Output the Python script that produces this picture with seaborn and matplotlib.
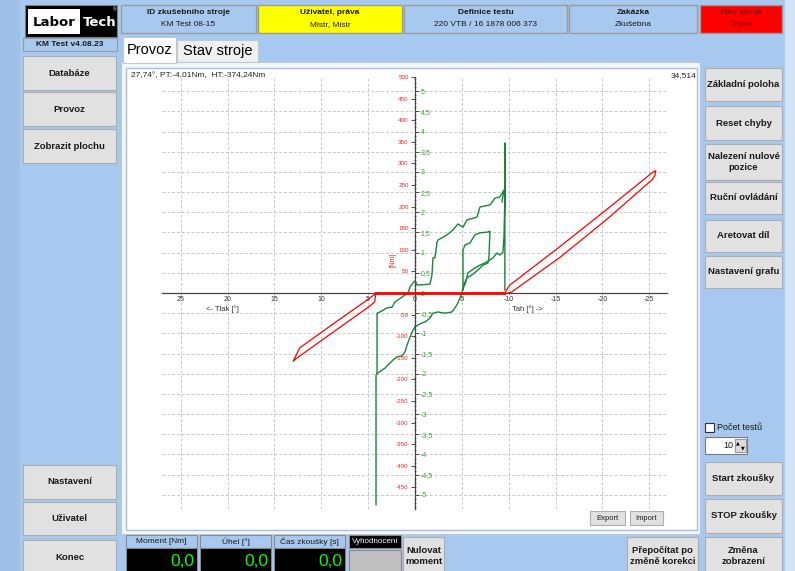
import seaborn as sns
import matplotlib.pyplot as plt
from matplotlib.patches import Rectangle
from matplotlib.ticker import MultipleLocator, FuncFormatter

W, H = 795, 571

# --- chart data (angle in degrees, moment in Nm, green trace in its own scale) ---
angle_ticks = [25, 20, 15, 10, 5, 0, -5, -10, -15, -20, -25]
moment_ticks = [500, 450, 400, 350, 300, 250, 200, 150, 100, 50,
                -50, -100, -150, -200, -250, -300, -350, -400, -450]
green_ticks = [5, 4.5, 4, 3.5, 3, 2.5, 2, 1.5, 1, 0.5, 0,
               -0.5, -1, -1.5, -2, -2.5, -3, -3.5, -4, -4.5, -5]

red_zero_x = [4.3, -9.6]
red_zero_y = [0, 0]
red_right_x = [-9.6, -9.8, -10.1, -15.5, -20.5, -25.4, -25.7, -25.6, -25.3, -20.5, -15.5, -10.3, -9.9]
red_right_y = [0, 8, 18, 108, 194, 280, 283, 272, 262, 171, 83, 2, 0]
red_left_x = [4.1, 5.1, 8.5, 12.3, 13.0, 12.7, 8.5, 5.0, 4.3, 4.2]
red_left_y = [0, -16, -68, -127, -158, -152, -87, -33, -21, -3]

green_a_x = [4.16, 4.16, 3.94, 3.52, 3.20, 2.88, 2.35, 1.92, 1.39, 1.07, 0.85, 0.53, 0.21, 0.0,
             -0.32, -0.75, -1.07, -1.60, -1.92, -2.45, -3.20, -3.94, -4.26, -4.58, -4.80, -5.01,
             -5.12, -5.12, -5.33, -5.86, -6.40, -6.93, -7.78, -8.0, -7.89, -7.78, -7.25, -6.72,
             -6.08, -5.54, -5.33, -5.12]
green_a_y = [-5.25, -2.03, -1.98, -1.91, -1.86, -1.78, -1.66, -1.58, -1.56, -1.46, -1.29, -1.09,
             -0.92, -0.84, -0.79, -0.74, -0.72, -0.62, -0.50, -0.47, -0.50, -0.47, -0.37, -0.25,
             -0.12, 0.0, 0.15, 1.06, 1.19, 1.24, 1.44, 1.49, 1.51, 1.53, 0.87, 0.74, 0.69, 0.57,
             0.45, 0.37, 0.27, 0.07]
green_b_x = [4.05, 4.05, 3.73, 2.99, 2.45, 2.13, 1.81, 1.07, 0.75, 0.53, 0.21, 0.0, -0.21, -0.53,
             -1.60, -1.81, -1.92, -2.13, -2.35, -2.45, -3.41, -4.05, -4.58, -5.12, -5.54, -6.61,
             -6.93, -8.00, -8.53, -9.06, -9.38, -9.49, -9.28]
green_b_y = [-2.0, -0.50, -0.47, -0.37, -0.35, -0.22, -0.17, -0.05, 0.0, 0.15, 0.25, 0.30, 0.20,
             0.20, 0.22, 0.45, 0.87, 0.87, 1.26, 1.31, 1.44, 1.56, 1.71, 1.63, 1.81, 1.88, 2.13,
             2.18, 2.35, 2.38, 2.50, 2.55, 2.25]
green_c_x = [-5.33, -5.65, -6.40, -6.93, -7.68, -8.32, -8.74, -9.06, -9.38, -9.49, -9.59, -9.59, -9.59]
green_c_y = [0.20, 0.50, 0.62, 0.69, 0.77, 0.87, 0.99, 0.94, 1.01, 1.36, 2.30, 3.71, 0.07]

GREEN = "#17853b"
RED = "#ff0000"
BLUE = "#a8c9ef"
GRAY_BTN = "#e1e1e1"

sns.set_style("white")
plt.rcParams["font.family"] = ["Liberation Sans", "DejaVu Sans"]

fig = plt.figure(figsize=(W / 100, H / 100), dpi=100, facecolor=BLUE)


def rect(x0, y0, x1, y1, fc, ec="#a0a0a0", lw=0.8):
    fig.add_artist(Rectangle((x0 / W, 1 - y1 / H), (x1 - x0) / W, (y1 - y0) / H,
                             transform=fig.transFigure, fc=fc, ec=ec, lw=lw, zorder=-2))


def label(x, y, s, **kw):
    kw.setdefault("ha", "center")
    kw.setdefault("va", "center")
    return fig.text(x / W, 1 - y / H, s, **kw)


def button(x0, y0, x1, y1, text, size=6.8, weight="bold"):
    rect(x0, y0, x1, y1, GRAY_BTN, ec="#adadad")
    label((x0 + x1) / 2, (y0 + y1) / 2, text, fontsize=size, fontweight=weight,
          color="#1a1a1a", linespacing=1.3)


# window edges
rect(0, 0, 20, H, "#9fc1e8", ec="none")
rect(785, 0, W, H, "#d3e3f6", ec="none")

# logo + version
rect(25, 5, 117, 37, "black", ec="#808080")
rect(28, 9, 80, 34, "white", ec="none")
label(54, 22, "Labor", fontsize=9.5, fontweight="bold", color="black", family="DejaVu Sans")
label(99.5, 22, "Tech", fontsize=9.5, fontweight="bold", color="white", family="DejaVu Sans")
label(115, 9.5, "®", fontsize=3.5, color="white")
rect(23, 38, 117, 51, BLUE, ec="#9a9a9a")
label(70, 44.5, "KM Test v4.08.23", fontsize=6, fontweight="bold", color="#1a1a1a")

# left buttons
for y0, y1, t in [(56, 90, "Databáze"), (92, 126, "Provoz"), (129, 163, "Zobrazit plochu"),
                  (465, 499, "Nastavení"), (502, 535, "Uživatel"), (540, 575, "Konec")]:
    button(23, y0, 116, y1, t)

# header cells
for x0, x1, fc, title, val, tc in [
        (121, 256, BLUE, "ID zkušebního stroje", "KM Test 08-15", "#1a1a1a"),
        (258, 402, "#ffff00", "Uživatel, práva", "Mistr, Mistr", "#1a1a1a"),
        (404, 567, BLUE, "Definice testu", "220 VTB / 16 1878 006 373", "#1a1a1a"),
        (569, 697, BLUE, "Zakázka", "Zkušebna", "#1a1a1a"),
        (700, 782, "#ff0000", "Stav stroje", "Chyba", "#8b0000")]:
    rect(x0, 5, x1, 33, fc, ec="#9a9a9a", lw=1)
    label((x0 + x1) / 2, 12.5, title, fontsize=6, fontweight="bold", color=tc)
    label((x0 + x1) / 2, 25, val, fontsize=6, color=tc)

# tabs
rect(121, 62, 700, 534, "#f4f7fb", ec="#c0c8d4")
rect(123, 37, 176, 63, "white", ec="#c0c8d4")
rect(177, 40, 258, 62, "#f0f0f0", ec="#c0c8d4")
label(149.5, 50, "Provoz", fontsize=10.5, color="black")
label(217.5, 51, "Stav stroje", fontsize=10.5, color="black")

# chart area
rect(126, 68, 697, 530, "white", ec="#a9c0dc", lw=1)
label(131, 76, "27,74°, PT:-4,01Nm,  HT:-374,24Nm", fontsize=6, color="#222222", ha="left")
label(696, 76, "34,514", fontsize=6, color="#222222", ha="right")
button(590, 511, 625, 525, "Export", size=5.5, weight="normal")
button(630, 511, 663, 525, "Import", size=5.5, weight="normal")

# right panel
rect(700, 62, 785, 534, BLUE, ec="none")
for y0, y1, t in [(68, 101, "Základní poloha"), (106, 140, "Reset chyby"),
                  (144, 180, "Nalezení nulové\npozice"), (182, 214, "Ruční ovládání"),
                  (220, 252, "Aretovat díl"), (256, 288, "Nastavení grafu"),
                  (462, 495, "Start zkoušky"), (499, 533, "STOP zkoušky"),
                  (537, 575, "Změna\nzobrazení")]:
    button(705, y0, 782, y1, t)
rect(705, 423, 714, 432, "white", ec="#333333")
label(717, 427.5, "Počet testů", fontsize=6.5, color="#1a1a1a", ha="left")
rect(705, 437, 747, 454, "white", ec="#7a7a7a")
label(733, 445.5, "10", fontsize=6.5, color="#1a1a1a", ha="right")
rect(735, 439, 746, 452, "#dcdcdc", ec="#9a9a9a")
label(738, 443, "▲", fontsize=3.5, color="black", family="DejaVu Sans")
label(743, 448, "▼", fontsize=3.5, color="black", family="DejaVu Sans")

# bottom row readouts
for x0, x1, t in [(126, 197, "Moment [Nm]"), (200, 271, "Úhel [°]"), (274, 345, "Čas zkoušky [s]")]:
    rect(x0, 535, x1, 548, BLUE, ec="#8a8a8a")
    label((x0 + x1) / 2, 541.5, t, fontsize=6, color="#1a1a1a")
    rect(x0, 548, x1, 575, "black", ec="#8a8a8a")
    label(x1 - 3, 561, "0,0", fontsize=12.5, color="#00ff00", ha="right")
rect(349, 535, 401, 548, "black", ec="#8a8a8a")
label(375, 541.5, "Vyhodnocení", fontsize=5.8, color="white")
rect(349, 550, 401, 575, "#c0c0c0", ec="#8a8a8a")
button(403, 537, 444, 575, "Nulovat\nmoment")
button(627, 537, 698, 575, "Přepočítat po\nzměně korekci")

# --- the chart itself ---
ax = fig.add_axes([162 / W, 1 - 509 / H, 506 / W, 432 / H])
ax2 = ax.twinx()
ax.patch.set_visible(False)

for gx, gy in [(green_a_x, green_a_y), (green_b_x, green_b_y), (green_c_x, green_c_y)]:
    sns.lineplot(x=gx, y=gy, sort=False, estimator=None, color=GREEN, lw=1.0, ax=ax, legend=False)

sns.lineplot(x=red_zero_x, y=red_zero_y, sort=False, estimator=None, color=RED, lw=2.0, ax=ax2)
for rx, ry in [(red_right_x, red_right_y), (red_left_x, red_left_y)]:
    sns.lineplot(x=rx, y=ry, sort=False, estimator=None, color=RED, lw=0.9, ax=ax2)

ax.set_xlim(27, -27)
ax.set_ylim(-5.35, 5.35)
ax2.set_ylim(-500, 500)

# green scale on the right of the centre line
ax.spines["right"].set_position(("data", 0))
ax.spines["bottom"].set_position(("data", 0))
ax.spines["top"].set_visible(False)
ax.spines["left"].set_visible(False)
for s in ["right", "bottom"]:
    ax.spines[s].set_linestyle((0, (1.5, 1)))
    ax.spines[s].set_color("#444444")
    ax.spines[s].set_linewidth(0.9)
ax.yaxis.set_ticks_position("right")
ax.set_yticks(green_ticks)
ax.yaxis.set_major_formatter(FuncFormatter(lambda v, p: f"{v:g}".replace(".", ",")))
ax.yaxis.set_minor_locator(MultipleLocator(0.1))
ax.tick_params(axis="y", which="major", direction="out", length=3, width=0.6, pad=1,
               labelsize=5, labelcolor="#3a9a3a", color="#333333")
ax.tick_params(axis="y", which="minor", direction="inout", length=2, width=0.5, color="#555555")

ax.set_xticks(angle_ticks)
ax.set_xticklabels([str(a) for a in angle_ticks])
ax.xaxis.set_minor_locator(MultipleLocator(0.5))
ax.tick_params(axis="x", which="major", direction="inout", length=3, width=0.6, pad=1,
               labelsize=5, labelcolor="#333333", color="#333333")
ax.tick_params(axis="x", which="minor", direction="inout", length=1.5, width=0.5, color="#777777")
ax.grid(True, which="major", linestyle=(0, (3, 2)), color="#c8c8c8", lw=0.7)
ax.set_xlabel("")
ax.set_ylabel("")

# red moment scale on the left of the centre line
for s in ["top", "bottom", "right"]:
    ax2.spines[s].set_visible(False)
ax2.spines["left"].set_position(("data", 0))
ax2.spines["left"].set_visible(False)
ax2.yaxis.set_ticks_position("left")
ax2.set_yticks(moment_ticks)
ax2.set_yticklabels([str(m) for m in moment_ticks])
ax2.tick_params(axis="y", direction="out", length=3, width=0.6, pad=1.5,
                labelsize=4.5, labelcolor="#ff2020", color="#333333")
ax2.set_ylabel("")

ax2.text(20.5, -37, "<- Tlak [°]", fontsize=5.5, color="#333333", ha="center", va="center")
ax2.text(-12.0, -37, "Tah [°] ->", fontsize=5.5, color="#333333", ha="center", va="center")
ax2.text(2.3, 76, "[Nm]", fontsize=4.8, color="#ff2020", rotation=90, ha="center", va="center")

fig.savefig("out.png", dpi=100, facecolor=fig.get_facecolor())
